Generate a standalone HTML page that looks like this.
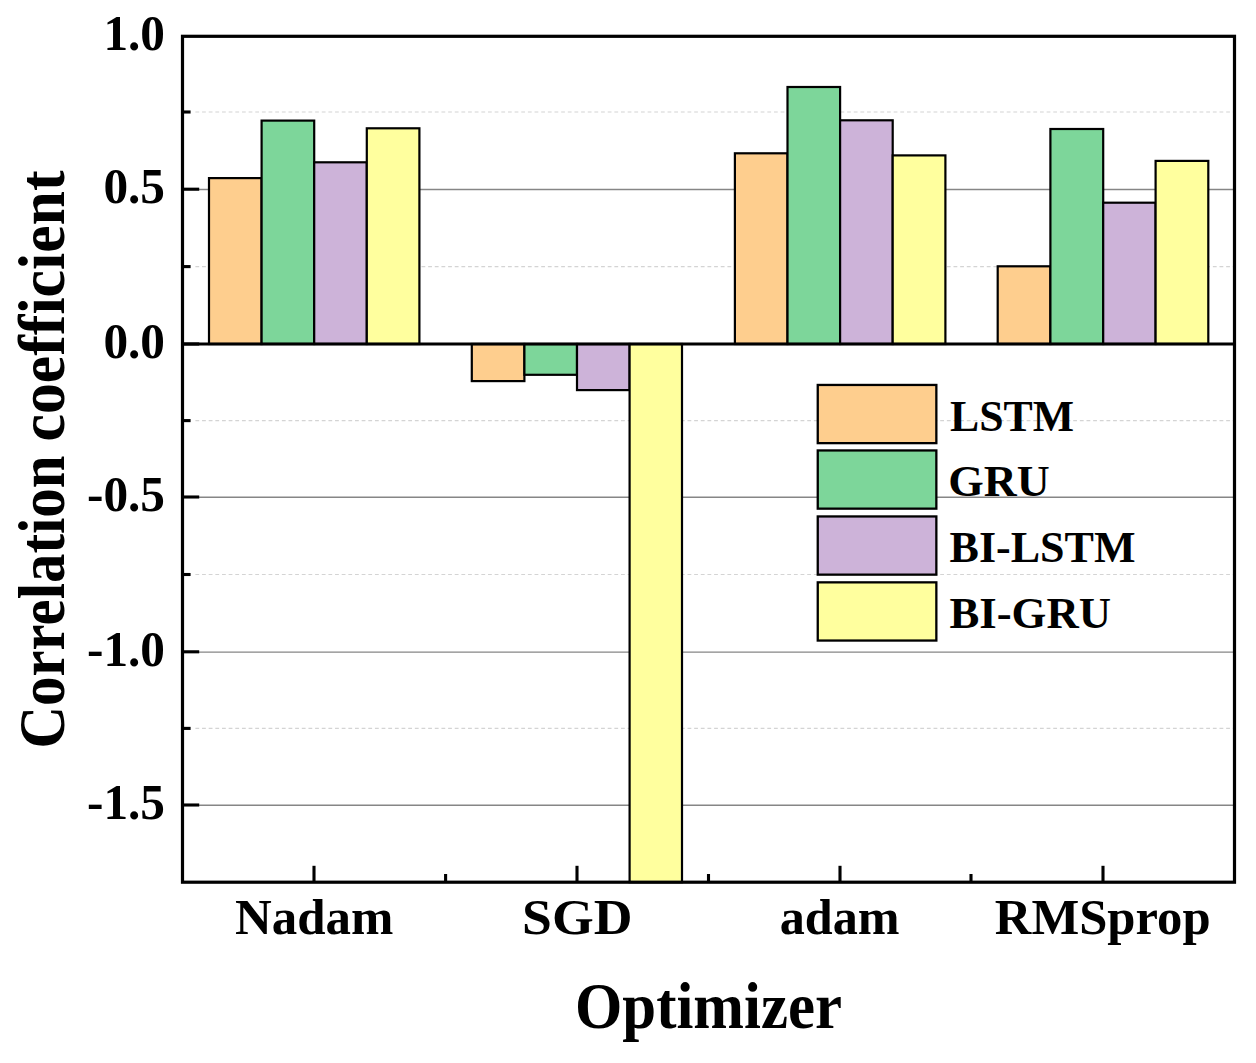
<!DOCTYPE html>
<html><head><meta charset="utf-8"><title>Correlation coefficient by optimizer</title>
<style>html,body{margin:0;padding:0;background:#fff;}body{width:1256px;height:1063px;overflow:hidden;}svg{display:block;}text{font-family:"Liberation Serif",serif;font-weight:bold;fill:#000;}</style>
</head><body>
<svg width="1256" height="1063" viewBox="0 0 1256 1063">
<rect x="0" y="0" width="1256" height="1063" fill="#ffffff"/>
<g stroke="#868686" stroke-width="1.4" fill="none">
<line x1="182.5" y1="189.5" x2="1234.5" y2="189.5"/>
<line x1="182.5" y1="497.3" x2="1234.5" y2="497.3"/>
<line x1="182.5" y1="652.1" x2="1234.5" y2="652.1"/>
<line x1="182.5" y1="805.3" x2="1234.5" y2="805.3"/>
</g>
<g stroke="#d4d4d4" stroke-width="1.2" stroke-dasharray="3.8 2.85" fill="none">
<line x1="195.4" y1="112.0" x2="1234.5" y2="112.0"/>
<line x1="195.4" y1="266.6" x2="1234.5" y2="266.6"/>
<line x1="195.4" y1="420.6" x2="1234.5" y2="420.6"/>
<line x1="195.4" y1="574.5" x2="1234.5" y2="574.5"/>
<line x1="195.4" y1="728.4" x2="1234.5" y2="728.4"/>
</g>
<g stroke="#000" stroke-width="2.2" stroke-linejoin="miter">
<rect x="209.0" y="178.1" width="52.6" height="165.9" fill="#FECE8E"/>
<rect x="261.6" y="120.6" width="52.6" height="223.4" fill="#7DD69A"/>
<rect x="314.2" y="162.3" width="52.6" height="181.7" fill="#CDB3D9"/>
<rect x="366.8" y="128.3" width="52.6" height="215.7" fill="#FFFF9E"/>
<rect x="471.8" y="344.0" width="52.6" height="37.1" fill="#FECE8E"/>
<rect x="524.4" y="344.0" width="52.6" height="30.8" fill="#7DD69A"/>
<rect x="577.0" y="344.0" width="52.6" height="46.1" fill="#CDB3D9"/>
<rect x="629.6" y="344.0" width="52.4" height="538.2" fill="#FFFF9E"/>
<rect x="734.9" y="153.3" width="52.6" height="190.7" fill="#FECE8E"/>
<rect x="787.5" y="87.0" width="52.6" height="257.0" fill="#7DD69A"/>
<rect x="840.1" y="120.3" width="52.6" height="223.7" fill="#CDB3D9"/>
<rect x="892.7" y="155.4" width="52.7" height="188.6" fill="#FFFF9E"/>
<rect x="997.7" y="266.3" width="52.7" height="77.7" fill="#FECE8E"/>
<rect x="1050.4" y="129.0" width="52.8" height="215.0" fill="#7DD69A"/>
<rect x="1103.2" y="202.7" width="52.4" height="141.3" fill="#CDB3D9"/>
<rect x="1155.6" y="160.9" width="52.7" height="183.1" fill="#FFFF9E"/>
</g>
<line x1="182.5" y1="344.0" x2="1234.5" y2="344.0" stroke="#000" stroke-width="3.2"/>
<g stroke="#000" stroke-width="3.1" fill="none">
<line x1="182.5" y1="189.2" x2="199.2" y2="189.2"/>
<line x1="182.5" y1="344.0" x2="199.2" y2="344.0"/>
<line x1="182.5" y1="497.0" x2="199.2" y2="497.0"/>
<line x1="182.5" y1="651.8" x2="199.2" y2="651.8"/>
<line x1="182.5" y1="805.0" x2="199.2" y2="805.0"/>
<line x1="182.5" y1="112.0" x2="190.6" y2="112.0"/>
<line x1="182.5" y1="266.6" x2="190.6" y2="266.6"/>
<line x1="182.5" y1="420.6" x2="190.6" y2="420.6"/>
<line x1="182.5" y1="574.5" x2="190.6" y2="574.5"/>
<line x1="182.5" y1="728.4" x2="190.6" y2="728.4"/>
<line x1="314.0" y1="865.8" x2="314.0" y2="882.2"/>
<line x1="577.0" y1="865.8" x2="577.0" y2="882.2"/>
<line x1="840.0" y1="865.8" x2="840.0" y2="882.2"/>
<line x1="1103.0" y1="865.8" x2="1103.0" y2="882.2"/>
<line x1="445.6" y1="874.0" x2="445.6" y2="882.2"/>
<line x1="708.5" y1="874.0" x2="708.5" y2="882.2"/>
<line x1="971.0" y1="874.0" x2="971.0" y2="882.2"/>
</g>
<rect x="182.5" y="36.3" width="1052.0" height="845.9" fill="none" stroke="#000" stroke-width="3.2"/>
<g font-size="49.3" text-anchor="end">
<text transform="translate(165.0,50.1) scale(1,1.03)">1.0</text>
<text transform="translate(165.0,203.0) scale(1,1.03)">0.5</text>
<text transform="translate(165.0,357.8) scale(1,1.03)">0.0</text>
<text transform="translate(165.0,510.8) scale(1,1.03)">-0.5</text>
<text transform="translate(165.0,665.6) scale(1,1.03)">-1.0</text>
<text transform="translate(165.0,818.8) scale(1,1.03)">-1.5</text>
</g>
<text x="235.0" y="934.3" font-size="50.5" textLength="158.4" lengthAdjust="spacingAndGlyphs">Nadam</text>
<text x="522.1" y="934.3" font-size="50.5" textLength="110.3" lengthAdjust="spacingAndGlyphs">SGD</text>
<text x="779.8" y="934.3" font-size="50.5" textLength="119.8" lengthAdjust="spacingAndGlyphs">adam</text>
<text x="994.8" y="934.3" font-size="50.5" textLength="215.8" lengthAdjust="spacingAndGlyphs">RMSprop</text>
<text x="575.0" y="1027.5" font-size="65" textLength="267.0" lengthAdjust="spacingAndGlyphs">Optimizer</text>
<g transform="translate(63.5,748.5) rotate(-90)">
<text x="0.0" y="0.0" font-size="65" textLength="293.0" lengthAdjust="spacingAndGlyphs">Correlation</text>
<text x="307.0" y="0.0" font-size="65" textLength="271.0" lengthAdjust="spacingAndGlyphs">coefficient</text>
</g>
<g stroke="#000" stroke-width="2.3">
<rect x="817.75" y="384.95" width="118.6" height="58.2" fill="#FECE8E"/>
<rect x="817.75" y="450.45" width="118.6" height="58.2" fill="#7DD69A"/>
<rect x="817.75" y="516.45" width="118.6" height="58.2" fill="#CDB3D9"/>
<rect x="817.75" y="582.35" width="118.6" height="58.2" fill="#FFFF9E"/>
</g>
<text x="950.0" y="431.0" font-size="45" textLength="124.0" lengthAdjust="spacingAndGlyphs">LSTM</text>
<text x="948.2" y="496.0" font-size="45" textLength="101.5" lengthAdjust="spacingAndGlyphs">GRU</text>
<text x="949.5" y="561.6" font-size="45" textLength="186.0" lengthAdjust="spacingAndGlyphs">BI-LSTM</text>
<text x="949.5" y="628.2" font-size="45" textLength="161.5" lengthAdjust="spacingAndGlyphs">BI-GRU</text>
</svg>
</body></html>
